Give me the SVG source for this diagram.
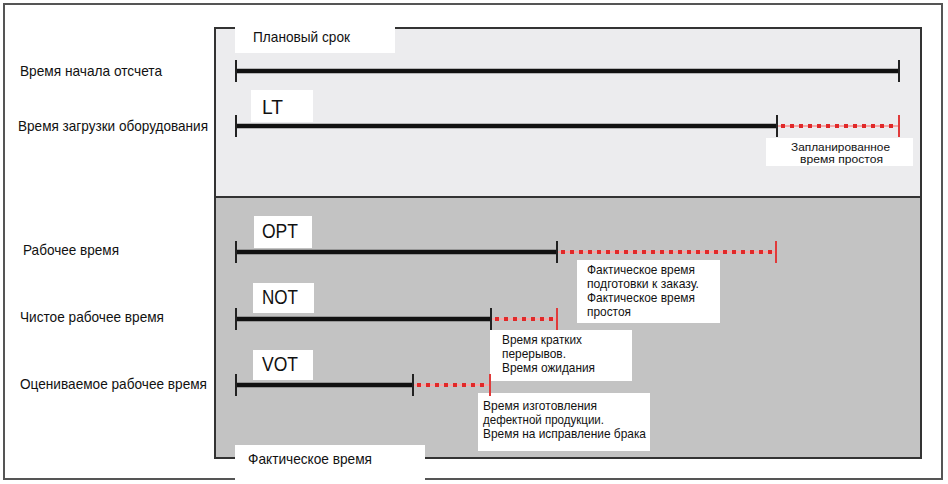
<svg xmlns="http://www.w3.org/2000/svg" width="948" height="484" viewBox="0 0 948 484">
<style>
.lbl{font-family:"Liberation Sans",Arial,sans-serif;font-size:15px;fill:#111}
.sm{font-family:"Liberation Sans",Arial,sans-serif;font-size:13.5px;fill:#111}
.sm2{font-family:"Liberation Sans",Arial,sans-serif;font-size:11.5px;fill:#111}
.big{font-family:"Liberation Sans",Arial,sans-serif;font-size:21px;fill:#111}
.box{fill:#fff}
.bl{stroke:#111;stroke-width:4.5}
.tk{stroke:#222;stroke-width:2}
.rtk{stroke:#e03a3a;stroke-width:2}
.rd{stroke:#e02828;stroke-width:4;stroke-dasharray:4 5}
.rdbg{stroke:#f4a8a8;stroke-width:2}
</style>
<rect x="0" y="0" width="948" height="484" fill="#fff"/>
<g id="frame">
<rect x="4" y="4" width="938" height="475" fill="none" stroke="#555" stroke-width="2"/>
</g>
<g id="panel-planned">
<rect x="215" y="28" width="706" height="169" fill="#ececee" stroke="#333" stroke-width="2"/>
<rect class="box" x="235" y="24" width="160" height="29"/>
<text class="lbl" x="253" y="42" textLength="97" lengthAdjust="spacingAndGlyphs">Плановый срок</text>
</g>
<g id="panel-actual">
<rect x="215" y="197" width="706" height="261" fill="#c3c3c3" stroke="#333" stroke-width="2"/>
<rect class="box" x="235" y="445" width="190" height="39"/>
<text class="lbl" x="248" y="464" textLength="124" lengthAdjust="spacingAndGlyphs">Фактическое время</text>
</g>
<g id="row-start">
<text class="lbl" x="20" y="76" textLength="142" lengthAdjust="spacingAndGlyphs">Время начала отсчета</text>
</g>
<g id="row-load">
<text class="lbl" x="18" y="131" textLength="190" lengthAdjust="spacingAndGlyphs">Время загрузки оборудования</text>
<rect class="box" x="251" y="90" width="62" height="32"/>
<text class="big" x="262" y="114" textLength="21" lengthAdjust="spacingAndGlyphs">LT</text>
</g>
<g id="row-opt">
<text class="lbl" x="23" y="255" textLength="96" lengthAdjust="spacingAndGlyphs">Рабочее время</text>
<rect class="box" x="254" y="216" width="58" height="32"/>
<text class="big" x="262" y="238" textLength="36" lengthAdjust="spacingAndGlyphs">OPT</text>
</g>
<g id="row-not">
<text class="lbl" x="20" y="322" textLength="144" lengthAdjust="spacingAndGlyphs">Чистое рабочее время</text>
<rect class="box" x="253" y="283" width="61" height="30"/>
<text class="big" x="262" y="304" textLength="36" lengthAdjust="spacingAndGlyphs">NOT</text>
</g>
<g id="row-vot">
<text class="lbl" x="20" y="389" textLength="187" lengthAdjust="spacingAndGlyphs">Оцениваемое рабочее время</text>
<rect class="box" x="253" y="350" width="60" height="30"/>
<text class="big" x="262" y="371" textLength="36" lengthAdjust="spacingAndGlyphs">VOT</text>
</g>
<g id="note-planned-downtime">
<rect class="box" x="766" y="138" width="147" height="28"/>
<text class="sm2" x="791" y="150.5" textLength="99" lengthAdjust="spacingAndGlyphs">Запланированное</text>
<text class="sm2" x="800" y="163" textLength="83" lengthAdjust="spacingAndGlyphs">время простоя</text>
</g>
<g id="note-actual-setup">
<rect class="box" x="577" y="260" width="143" height="63"/>
<text class="sm" x="587" y="274" textLength="108" lengthAdjust="spacingAndGlyphs">Фактическое время</text>
<text class="sm" x="587" y="288" textLength="112" lengthAdjust="spacingAndGlyphs">подготовки к заказу.</text>
<text class="sm" x="587" y="302" textLength="108" lengthAdjust="spacingAndGlyphs">Фактическое время</text>
<text class="sm" x="587" y="316" textLength="44" lengthAdjust="spacingAndGlyphs">простоя</text>
</g>
<g id="note-breaks">
<rect class="box" x="490" y="330" width="142" height="51"/>
<text class="sm" x="502" y="344" textLength="80" lengthAdjust="spacingAndGlyphs">Время кратких</text>
<text class="sm" x="502" y="358" textLength="64" lengthAdjust="spacingAndGlyphs">перерывов.</text>
<text class="sm" x="502" y="372" textLength="93" lengthAdjust="spacingAndGlyphs">Время ожидания</text>
</g>
<g id="note-defects">
<rect class="box" x="478" y="393" width="172" height="58"/>
<text class="sm" x="483" y="410" textLength="114" lengthAdjust="spacingAndGlyphs">Время изготовления</text>
<text class="sm" x="483" y="424" textLength="121" lengthAdjust="spacingAndGlyphs">дефектной продукции.</text>
<text class="sm" x="483" y="438" textLength="163" lengthAdjust="spacingAndGlyphs">Время на исправление брака</text>
</g>
<g id="connectors">
<line class="bl" x1="236" y1="71" x2="899" y2="71"/>
<line class="tk" x1="236" y1="60" x2="236" y2="82"/>
<line class="tk" x1="899" y1="60" x2="899" y2="82"/>

<line class="bl" x1="236" y1="126" x2="777" y2="126"/>
<line class="rdbg" x1="777" y1="126" x2="899" y2="126"/>
<line class="rd" x1="781" y1="126" x2="897" y2="126"/>
<line class="tk" x1="236" y1="115" x2="236" y2="137"/>
<line class="tk" x1="777" y1="115" x2="777" y2="137"/>
<line class="rtk" x1="899" y1="115" x2="899" y2="137"/>

<line class="bl" x1="236" y1="252" x2="557" y2="252"/>
<line class="rdbg" x1="557" y1="252" x2="776" y2="252"/>
<line class="rd" x1="561" y1="252" x2="774" y2="252"/>
<line class="tk" x1="236" y1="241" x2="236" y2="263"/>
<line class="tk" x1="557" y1="241" x2="557" y2="263"/>
<line class="rtk" x1="776" y1="241" x2="776" y2="263"/>

<line class="bl" x1="236" y1="319" x2="491" y2="319"/>
<line class="rdbg" x1="491" y1="319" x2="557" y2="319"/>
<line class="rd" x1="495" y1="319" x2="555" y2="319"/>
<line class="tk" x1="236" y1="308" x2="236" y2="330"/>
<line class="tk" x1="491" y1="308" x2="491" y2="330"/>
<line class="rtk" x1="557" y1="308" x2="557" y2="330"/>

<line class="bl" x1="236" y1="385" x2="413" y2="385"/>
<line class="rdbg" x1="413" y1="385" x2="490" y2="385"/>
<line class="rd" x1="417" y1="385" x2="488" y2="385"/>
<line class="tk" x1="236" y1="374" x2="236" y2="396"/>
<line class="tk" x1="413" y1="374" x2="413" y2="396"/>
<line class="rtk" x1="490" y1="374" x2="490" y2="396"/>
</g>
</svg>
